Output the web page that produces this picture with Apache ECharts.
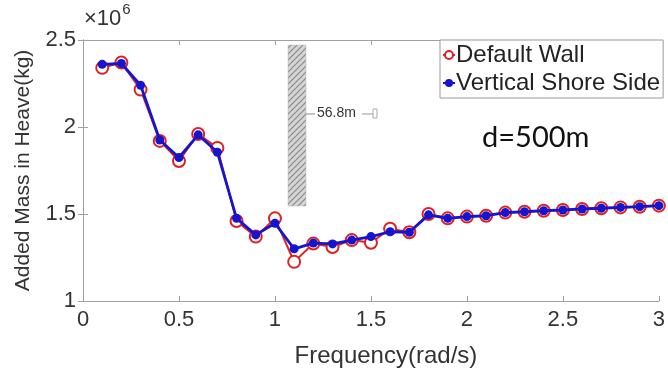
<!DOCTYPE html>
<html><head><meta charset="utf-8">
<script src="https://cdn.jsdelivr.net/npm/echarts@6/dist/echarts.min.js"></script>
<style>html,body{margin:0;padding:0;background:#fff}#c{width:668px;height:379px}</style>
</head><body><div id="c"></div>
<script>
const freq = [0.1,0.2,0.3,0.4,0.5,0.6,0.7,0.8,0.9,1.0,1.1,1.2,1.3,1.4,1.5,1.6,1.7,1.8,1.9,2.0,2.1,2.2,2.3,2.4,2.5,2.6,2.7,2.8,2.9,3.0];
const defaultWall = [2.34,2.37,2.215,1.92,1.805,1.96,1.88,1.46,1.37,1.475,1.225,1.33,1.31,1.35,1.335,1.415,1.395,1.50,1.475,1.485,1.49,1.508,1.513,1.519,1.523,1.529,1.533,1.538,1.542,1.548];
const verticalShore = [2.36,2.365,2.24,1.925,1.825,1.955,1.855,1.475,1.38,1.447,1.30,1.333,1.328,1.35,1.37,1.398,1.395,1.495,1.475,1.485,1.49,1.508,1.513,1.519,1.523,1.529,1.533,1.538,1.542,1.548];
const xTicks = [0,0.5,1,1.5,2,2.5,3];
const yTicks = [1,1.5,2,2.5];
const seriesNames = ['Default Wall','Vertical Shore Side'];

const FONT = 'Liberation Sans';
const RED = '#e02020', BLUE = '#1515d0';
const chart = echarts.init(document.getElementById('c'), null, {renderer:'canvas'});

// hatch pattern
const pc = document.createElement('canvas');
pc.width = 6; pc.height = 6;
const pctx = pc.getContext('2d');
pctx.fillStyle = '#d4d4d4'; pctx.fillRect(0,0,6,6);
pctx.strokeStyle = '#8a8a8a'; pctx.lineWidth = 1.2;
pctx.beginPath();
pctx.moveTo(0,6); pctx.lineTo(6,0);
pctx.moveTo(-3,3); pctx.lineTo(3,-3);
pctx.moveTo(3,9); pctx.lineTo(9,3);
pctx.stroke();

const axisCommon = {
  type:'value',
  axisLine:{show:true, lineStyle:{color:'#a0a0a0', width:1}},
  axisTick:{show:true, inside:true, length:5, lineStyle:{color:'#a0a0a0'}},
  splitLine:{show:false}
};

chart.setOption({
  animation:false,
  backgroundColor:'#fff',
  grid:{left:83, right:5, top:40, bottom:78},
  xAxis:[
    Object.assign({}, axisCommon, {
      min:0, max:3, interval:0.5, position:'bottom',
      axisLabel:{color:'#333', fontFamily:FONT, fontSize:22, margin:8,
        formatter: v => xTicks.indexOf(v) >= 0 ? String(v) : ''},
      name:'Frequency(rad/s)', nameLocation:'middle', nameGap:43,
      nameTextStyle:{color:'#333', fontFamily:FONT, fontSize:24, padding:[0,0,0,30]}
    }),
    Object.assign({}, axisCommon, {
      min:0, max:3, interval:0.5, position:'top', axisLabel:{show:false}
    })
  ],
  yAxis:[
    Object.assign({}, axisCommon, {
      min:1, max:2.5, interval:0.5, position:'left',
      axisLabel:{color:'#333', fontFamily:FONT, fontSize:22, margin:7,
        formatter: v => yTicks.indexOf(v) >= 0 ? String(v) : ''},
      name:'Added Mass in Heave(kg)', nameLocation:'middle', nameGap:49,
      nameTextStyle:{color:'#333', fontFamily:FONT, fontSize:21}
    }),
    Object.assign({}, axisCommon, {
      min:1, max:2.5, interval:0.5, position:'right', axisLabel:{show:false}
    })
  ],
  legend:{
    orient:'vertical', left:440, top:40,
    backgroundColor:'#fff', borderColor:'#999', borderWidth:1,
    padding:[3,3,3,2], itemGap:4, itemWidth:12, itemHeight:10,
    textStyle:{color:'#222', fontFamily:FONT, fontSize:24, padding:[0,0,0,-4]},
    data:seriesNames
  },
  graphic:[
    {type:'text', left:84, top:2, style:{
      text:'{a|×10}{b|6}', rich:{
        a:{fontFamily:FONT, fontSize:22, fill:'#333', verticalAlign:'bottom', lineHeight:28},
        b:{fontFamily:FONT, fontSize:15, fill:'#333', verticalAlign:'top', lineHeight:28, padding:[0,0,12,1]}
      }}},
    {type:'rect', shape:{x:288, y:45, width:18, height:161}, style:{fill:{image:pc, repeat:'repeat'}, stroke:'#bbb', lineWidth:0.5}},
    {type:'line', shape:{x1:306, y1:114, x2:315, y2:114}, style:{stroke:'#888', lineWidth:1}},
    {type:'text', x:317, y:106, style:{text:'56.8m', fontFamily:FONT, fontSize:14, fill:'#333'}},
    {type:'line', shape:{x1:362, y1:114, x2:373, y2:114}, style:{stroke:'#999', lineWidth:1}},
    {type:'rect', shape:{x:373, y:109, width:4, height:9}, style:{fill:'#fff', stroke:'#aaa', lineWidth:1}},
    {type:'text', x:482, y:123, style:{text:'d=500m', fontFamily:'Lato', fontSize:29, fill:'#111'}}
  ],
  series:[
    {name:seriesNames[0], type:'line', xAxisIndex:0, yAxisIndex:0,
      data: freq.map((f,i)=>[f, defaultWall[i]]),
      symbol:'emptyCircle', symbolSize:12, showAllSymbol:true,
      lineStyle:{color:RED, width:2},
      itemStyle:{color:RED, borderWidth:2}, z:2},
    {name:seriesNames[1], type:'line', xAxisIndex:0, yAxisIndex:0,
      data: freq.map((f,i)=>[f, verticalShore[i]]),
      symbol:'circle', symbolSize:9, showAllSymbol:true,
      lineStyle:{color:BLUE, width:2.8},
      itemStyle:{color:BLUE}, z:3}
  ]
});
</script></body></html>
